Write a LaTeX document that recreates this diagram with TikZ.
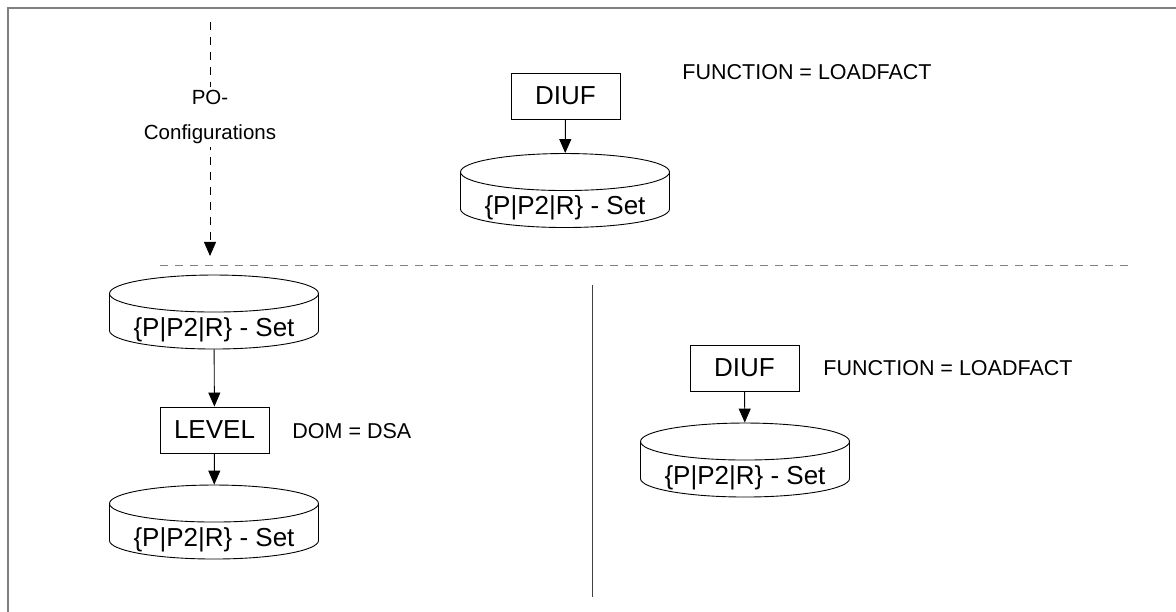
\documentclass[tikz,border=0pt]{standalone}
\usepackage{fontspec}
\setmainfont{Liberation Sans}
\usetikzlibrary{arrows.meta,shapes.geometric}

% Text im Zylinder etwas unter die Mitte setzen
\newcommand{\settext}[1]{\raisebox{-15pt}[0pt][0pt]{#1}}

\begin{document}
\begin{tikzpicture}[x=1pt, y=-1pt, line width=0.9pt,
    >={Triangle[width=12pt,length=14pt]},
    every node/.style={font=\fontsize{21.5}{26}\selectfont},
    box/.style={draw, minimum width=109pt, minimum height=46pt, inner sep=0pt,
      font=\fontsize{26}{30}\selectfont},
    store/.style={draw, cylinder, shape border rotate=90, aspect=0.23,
      minimum width=209pt, minimum height=74pt, inner sep=0pt,
      font=\fontsize{26}{30}\selectfont},
    note/.style={anchor=west, inner sep=0pt},
    split/.style={gray, dash pattern=on 8pt off 7pt}]
  \useasboundingbox (0,0) rectangle (1176,612);
  % Rahmen
  \draw[gray, line width=1.5pt] (8,612) -- (8,8) -- (1176,8);

  % Konfigurationen von oben
  \coordinate (cfgtop) at (210,22);
  \coordinate (cfgend) at (210,256);
  \draw[->, dash pattern=on 8pt off 7pt] (cfgtop) -- (cfgend);
  \node[fill=white, align=center, font=\fontsize{20.5}{35}\selectfont] (cfg) at (210,117) {PO-\\Configurations};

  % oberer Teil
  \node[box] (diuf1) at (565.5,96) {DIUF};
  \node[note] (fn1) at (682,72) {FUNCTION = LOADFACT};
  \node[store] (set1) at (565,200) {\settext{\{P|P2|R\} - Set}};
  \draw[->] (diuf1) -- (set1);

  % Trennlinien
  \coordinate (splitL) at (160,265);
  \coordinate (splitR) at (1130,265);
  \draw[split] (splitL) -- (splitR);
  \coordinate (midtop) at (592,285);
  \coordinate (midbot) at (592,597);
  \draw[darkgray] (midtop) -- (midbot);

  % links: LEVEL
  \node[store] (set2) at (214,321.5) {\settext{\{P|P2|R\} - Set}};
  \node[box] (level) at (214.5,430) {LEVEL};
  \node[note] (dom) at (292,431) {DOM = DSA};
  \node[store] (set3) at (214,531.5) {\settext{\{P|P2|R\} - Set}};
  \draw[->] (set2) -- (level);
  \draw[->] (level) -- (set3);

  % rechts: DIUF
  \node[box] (diuf2) at (744.5,368) {DIUF};
  \node[note] (fn2) at (823,368) {FUNCTION = LOADFACT};
  \node[store] (set4) at (745,469.5) {\settext{\{P|P2|R\} - Set}};
  \draw[->] (diuf2) -- (set4);
\end{tikzpicture}
\end{document}
